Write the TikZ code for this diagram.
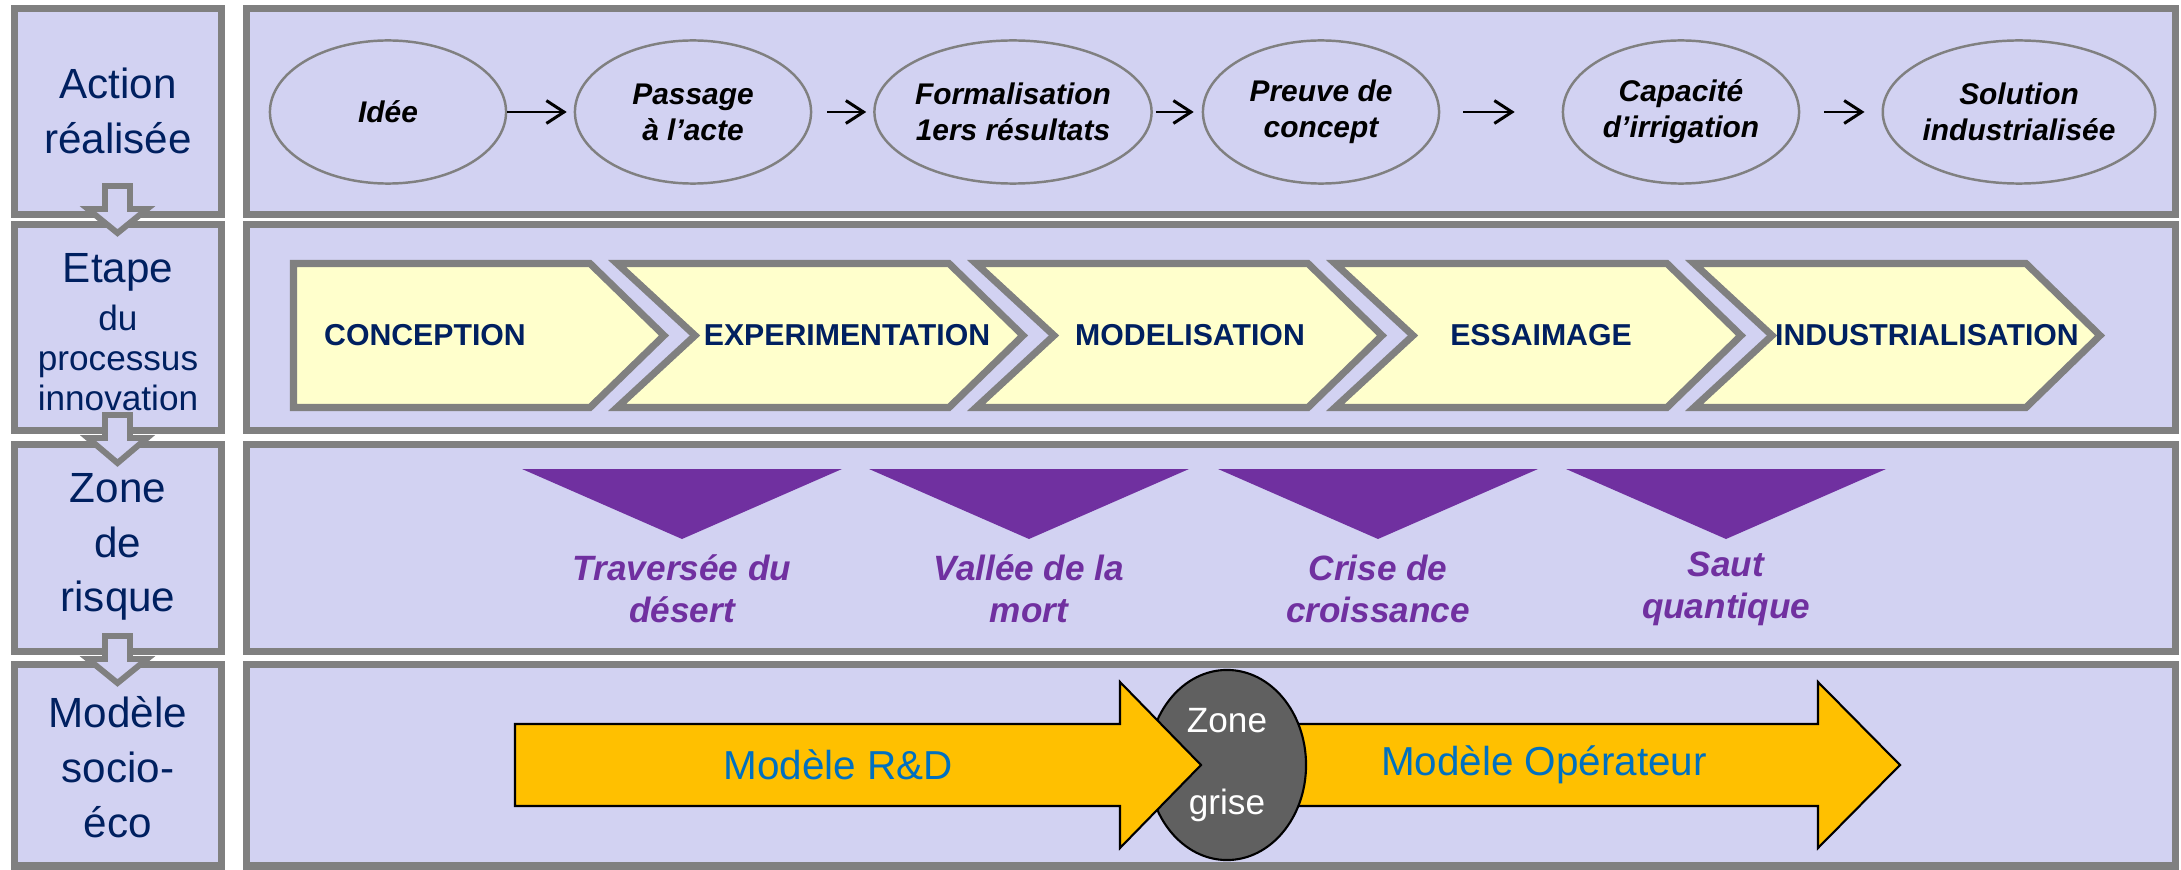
\documentclass[tikz,border=0pt]{standalone}
\usepackage{fontspec}
\setmainfont{Liberation Sans}
\usepackage{tikz}
\usetikzlibrary{shapes.geometric}
\usetikzlibrary{positioning}
\usetikzlibrary{arrows.meta}

\definecolor{panel}{RGB}{210,210,242}
\definecolor{framegray}{RGB}{128,128,128}
\definecolor{chev}{RGB}{255,255,204}
\definecolor{navy}{RGB}{0,32,96}
\definecolor{risk}{RGB}{112,48,160}
\definecolor{gold}{RGB}{255,192,0}
\definecolor{mblue}{RGB}{0,112,192}
\definecolor{zonegray}{RGB}{96,96,96}

\begin{document}
\begin{tikzpicture}[x=0.01cm, y=-0.01cm,
  box/.style={draw=framegray, line width=2pt, fill=panel},
  downarr/.style={draw=framegray, line width=1.7pt, fill=panel},
  lbl/.style={align=center, text=navy, font=\fontsize{12}{15.6}\selectfont},
  act/.style={ellipse, draw=framegray, line width=0.7pt, fill=panel, inner sep=0pt,
    minimum width=2.36cm, minimum height=1.43cm, align=center,
    font=\fontsize{8.5}{10.2}\selectfont\bfseries\itshape},
  flow/.style={line width=0.85pt, -{Straight Barb[length=5pt,width=6.5pt]}},
  stepshape/.style={draw=framegray, line width=2pt, fill=chev},
  steplbl/.style={text=navy, font=\fontsize{8.6}{10}\selectfont\bfseries},
  risklbl/.style={align=center, text=risk, font=\fontsize{10}{12}\selectfont\bfseries\itshape},
  goldarrow/.style={draw=black, line width=0.6pt, fill=gold},
  model/.style={text=mblue, font=\fontsize{11.5}{14}\selectfont},
  zone/.style={ellipse, draw=black, line width=0.6pt, fill=zonegray, text=white, inner sep=0pt,
    minimum width=1.58cm, minimum height=1.9cm, align=center, font=\fontsize{10}{12}\selectfont}]

  \useasboundingbox (0,0) rectangle (2181,870);
  \fill[white] (0,0) rectangle (2181,870);

  %frames
    \foreach \t/\b in {8.5/214.5, 224.5/430.5, 444.5/651.5, 664.5/866}{
        \draw[box] (14.5,\t) rectangle (221.5,\b);
        \draw[box] (246.5,\t) rectangle (2175.5,\b);
    }

  %down arrows
    \foreach \s/\h/\p in {186/209/233, 415/438/463, 636/659/683}{
        \draw[downarr] (105,\s) -- (130,\s) -- (130,\h) -- (147,\h) -- (117.5,\p) -- (88,\h) -- (105,\h) -- cycle;
    }

  %row titles
    \node[lbl] (lab1) at (118,111) {Action\\réalisée};
    \node[lbl, font=\fontsize{10}{11.4}\selectfont] (lab2) at (118,332)
        {{\fontsize{12}{14}\selectfont Etape}\\[2.3pt]du\\processus\\innovation};
    \node[lbl] (lab3) at (118,547) {Zone\\de\\risque};
    \node[lbl] (lab4) at (118,767) {Modèle\\socio-\\éco};

  %actions
    \foreach \x/\txt/\name in {388/Idée/act1, 693/{Passage\\à l’acte}/act2,
        1013/{Formalisation\\1ers résultats}/act3, 1321/{Preuve de\\concept}/act4,
        1681/{Capacité\\d’irrigation}/act5, 2019/{Solution\\industrialisée}/act6}{
        \node[act] (\name) at (\x,112) {\txt};
    }
    \foreach \a/\b/\sa/\sb in {act1/act2/0cm/0.07cm, act2/act3/0.15cm/0.07cm,
        act3/act4/0.03cm/0.08cm, act4/act5/0.23cm/0.47cm, act5/act6/0.24cm/0.17cm}{
        \draw[flow, shorten <=\sa, shorten >=\sb] (\a) -- (\b);
    }

  %steps
    \def\chtop{263.5}
    \def\chbot{407.5}
    \def\chmid{335.5}
    \draw[stepshape] (293.5,\chtop) -- (590,\chtop) -- (664,\chmid) -- (590,\chbot) -- (293.5,\chbot) -- cycle;
    \foreach \l/\r in {617/949, 976/1308, 1335/1667, 1694/2026}{
        \draw[stepshape] (\l,\chtop) -- (\r,\chtop) -- (\r+74,\chmid) -- (\r,\chbot) -- (\l,\chbot) -- (\l+78,\chmid) -- cycle;
    }
    \foreach \x/\txt/\name in {425/CONCEPTION/stp1, 847/EXPERIMENTATION/stp2, 1190/MODELISATION/stp3,
        1541/ESSAIMAGE/stp4, 1927/INDUSTRIALISATION/stp5}{
        \node[steplbl] (\name) at (\x,335) {\txt};
    }

  %risk zones
    \foreach \c/\txt/\name in {682/{Traversée du\\désert}/rsk1, 1029/{Vallée de la\\mort}/rsk2,
        1378/{Crise de\\croissance}/rsk3, 1726/{Saut\\quantique}/rsk4}{
        \fill[risk] (\c-160,469) -- (\c+160,469) -- (\c,539) -- cycle;
        \node[risklbl] (\name) at (\c,589) {\txt};
    }

  %models
    \draw[goldarrow] (1230,724) -- (1818,724) -- (1818,682) -- (1900,765) -- (1818,848) -- (1818,806) -- (1230,806) -- cycle;
    \node[zone] (zone) at (1227,765) {Zone\\[0.39cm]grise};
    \draw[goldarrow] (515,724) -- (1120,724) -- (1120,682) -- (1201,765) -- (1120,848) -- (1120,806) -- (515,806) -- cycle;
    \node[model] (rd) at (838,765) {Modèle R\&D};
    \node[model] (op) at (1544,765) {Modèle Opérateur};

\end{tikzpicture}
\end{document}
